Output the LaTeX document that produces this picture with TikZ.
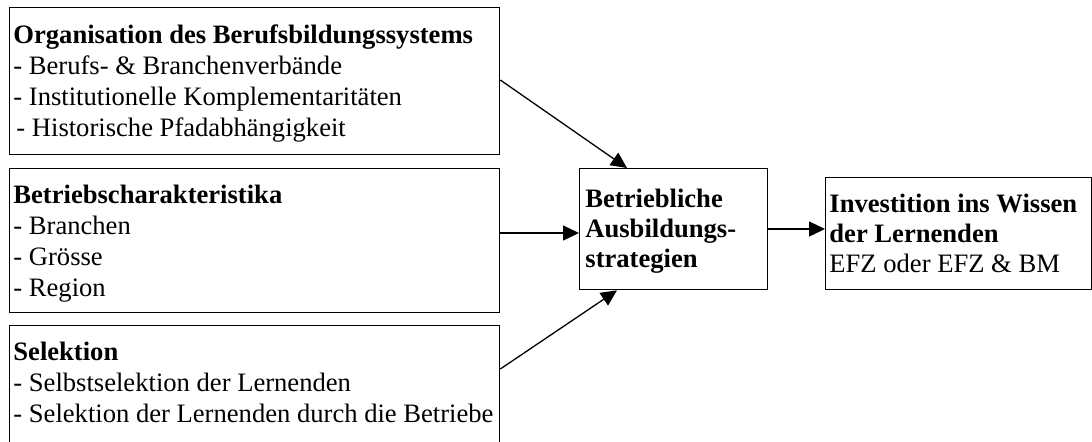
\documentclass[tikz,border=0pt]{standalone}
\usepackage{fontspec}
\setmainfont{Liberation Serif}
\usetikzlibrary{arrows.meta}
\tikzset{
  box/.style={draw=black, line width=0.65pt, fill=none, inner sep=0pt, anchor=north west},
  txt/.style={anchor=base west, inner sep=0pt, align=left, font=\fontsize{13.3pt}{15.5pt}\selectfont},
  txtc/.style={anchor=base west, inner sep=0pt, align=left, font=\fontsize{13.3pt}{15pt}\selectfont},
  arr/.style={line width=0.65pt, -{Triangle[length=8pt,width=7.5pt]}}
}
\begin{document}
\begin{tikzpicture}[x=0.5pt,y=-0.5pt]
\useasboundingbox (0,0) rectangle (1092,441);
\clip (0,0) rectangle (1092,441);
% boxes
\node[box, minimum width=245pt, minimum height=73.5pt] (org) at (9,7) {};
\node[box, minimum width=245pt, minimum height=72pt] (bet) at (9,168) {};
\node[box, minimum width=245pt, minimum height=70pt] (sel) at (9,325) {};
\node[box, minimum width=94pt, minimum height=60.5pt] (mid) at (579,168) {};
\node[box, minimum width=133pt, minimum height=56pt] (out) at (825,177) {};
% texts (anchor at the baseline of the last line)
\node[txt] (orgt) at (13,136) {\textbf{Organisation des Berufsbildungssystems}\\- Berufs- \& Branchenverbände\\- Institutionelle Komplementaritäten\\\hspace{1.5pt}- Historische Pfadabhängigkeit};
\node[txt] (bett) at (13,296) {\textbf{Betriebscharakteristika}\\- Branchen\\- Grösse\\- Region};
\node[txt] (selt) at (13,422) {\textbf{Selektion}\\- Selbstselektion der Lernenden\\- Selektion der Lernenden durch die Betriebe};
\node[txtc] (midt) at (585,267) {\textbf{Betriebliche}\\\textbf{Ausbildungs-}\\\textbf{strategien}};
\node[txtc] (outt) at (829,272) {\textbf{Investition ins Wissen}\\\textbf{der Lernenden}\\EFZ oder EFZ \& BM};
% arrows
\draw[arr] ([yshift=-36.5pt]org.north east) -- ([xshift=24pt]mid.north west);
\draw[arr] ([yshift=-32.5pt]bet.north east) -- ([yshift=-32.5pt]mid.north west);
\draw[arr] ([yshift=-22pt]sel.north east) -- ([xshift=19pt]mid.south west);
\draw[arr] ([yshift=-30.5pt]mid.north east) -- ([yshift=-26pt]out.north west);
\end{tikzpicture}
\end{document}
